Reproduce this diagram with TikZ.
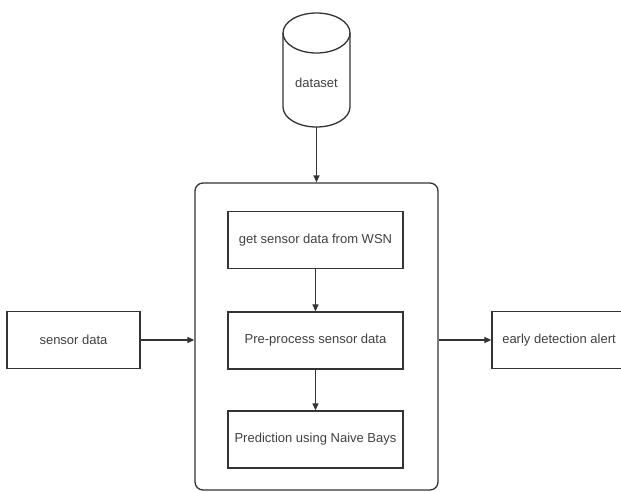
\documentclass[tikz,border=0pt]{standalone}
\usepackage{fontspec}
\setmainfont{Liberation Sans}
\usetikzlibrary{arrows.meta}

\begin{document}
\begin{tikzpicture}[x=1pt,y=-1pt,
    line width=1.3pt, draw=black!80,
    box/.style={draw=black!80, minimum width=#1, minimum height=57pt, inner sep=0pt,
        text=black!75, font=\fontsize{13}{15}\selectfont},
    box/.default=175pt,
    arr/.style={-{Triangle[length=7pt,width=6pt]}, draw=black!80}]
    \useasboundingbox (0,0) rectangle (621,492);
    \clip (0,0) rectangle (621,492);

    % the data store on top
    \draw[black!80] (283,33) -- (283,107) arc[start angle=180, end angle=0, x radius=33.5, y radius=20] -- (350,33);
    \draw[black!80] (316.5,33) ellipse [x radius=33.5, y radius=20];
    \node[text=black!75, font=\fontsize{13}{15}\selectfont] (dataset) at (316.5,83) {dataset};
    \coordinate (dbase) at (316.5,127);

    % the processing block
    \node[draw=black!80, rounded corners=8pt, minimum width=243pt, minimum height=307pt] (core) at (316.5,336.5) {};

    \node[box] (getdata) at (315.5,240) {get sensor data from WSN};
    \node[box] (preproc) at (315.5,340.5) {Pre-process sensor data};
    \node[box] (predict) at (315.5,439.5) {Prediction using Naive Bays};

    \node[box=133pt] (sensor) at (73.5,340) {sensor data};
    \node[box=134pt] (alert) at (559,340) {early detection alert};

    \draw[arr] (dbase) -- (core.north);
    \draw[arr] (getdata) -- (preproc);
    \draw[arr] (preproc) -- (predict);
    \draw[arr] (sensor.east) -- (sensor.east -| core.west);
    \draw[arr] (core.east |- alert.west) -- (alert.west);

\end{tikzpicture}
\end{document}
